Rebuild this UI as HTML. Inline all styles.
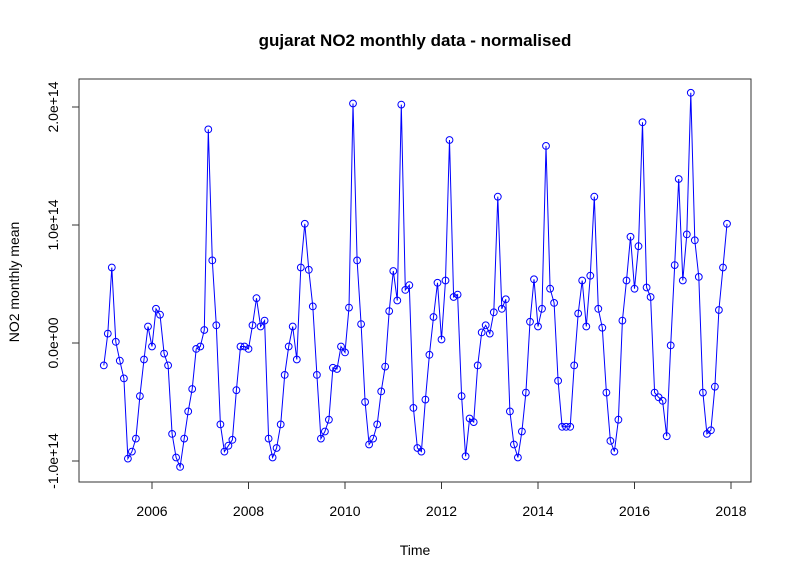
<!DOCTYPE html>
<html><head><meta charset="utf-8"><style>
body{margin:0;background:#fff}
svg text{font-family:"Liberation Sans",sans-serif}
</style></head><body>
<svg id="chart" width="792" height="580">
<rect x="0" y="0" width="792" height="580" fill="#fff"/>
<text x="415" y="46" text-anchor="middle" font-size="17" font-weight="bold">gujarat NO2 monthly data - normalised</text>
<text x="415" y="555" text-anchor="middle" font-size="14">Time</text>
<text transform="translate(19,282) rotate(-90)" text-anchor="middle" font-size="14">NO2 monthly mean</text>
<rect x="79" y="79" width="672" height="403" fill="none" stroke="#333" stroke-width="1"/>
<g id="xaxis"></g>
<g id="yaxis"></g>
<g id="series"></g>
</svg>
<script>
const startYear = 2005;
const xTicks = [2006, 2008, 2010, 2012, 2014, 2016, 2018];
const yTicks = [-1, 0, 1, 2];
const yTickLabels = ["-1.0e+14", "0.0e+00", "1.0e+14", "2.0e+14"];
// values in units of 1e14, monthly Jan 2005 - Dec 2017
const values = [
-0.19,0.08,0.64,0.01,-0.15,-0.30,-0.98,-0.92,-0.81,-0.45,-0.14,0.14,
-0.03,0.29,0.24,-0.09,-0.19,-0.77,-0.97,-1.05,-0.81,-0.58,-0.39,-0.05,
-0.03,0.11,1.81,0.70,0.15,-0.69,-0.92,-0.87,-0.82,-0.40,-0.03,-0.03,
-0.05,0.15,0.38,0.14,0.19,-0.81,-0.97,-0.89,-0.69,-0.27,-0.03,0.14,
-0.14,0.64,1.01,0.62,0.31,-0.27,-0.81,-0.75,-0.65,-0.21,-0.22,-0.03,
-0.08,0.30,2.03,0.70,0.16,-0.50,-0.86,-0.81,-0.69,-0.41,-0.20,0.27,
0.61,0.36,2.02,0.45,0.49,-0.55,-0.89,-0.92,-0.48,-0.10,0.22,0.51,
0.03,0.53,1.72,0.39,0.41,-0.45,-0.96,-0.64,-0.67,-0.19,0.09,0.15,
0.08,0.26,1.24,0.29,0.37,-0.58,-0.86,-0.97,-0.75,-0.42,0.18,0.54,
0.14,0.29,1.67,0.46,0.34,-0.32,-0.71,-0.71,-0.71,-0.19,0.25,0.53,
0.14,0.57,1.24,0.29,0.13,-0.42,-0.83,-0.92,-0.65,0.19,0.53,0.90,
0.46,0.82,1.87,0.47,0.39,-0.42,-0.46,-0.49,-0.79,-0.02,0.66,1.39,
0.53,0.92,2.12,0.87,0.56,-0.42,-0.77,-0.74,-0.37,0.28,0.64,1.01
];
const NS = "http://www.w3.org/2000/svg";
function xs(t){ return 152 + (t - 2006) * 48.25; }
function ys(v){ return 343 - v * 118; }
function mk(tag, attrs, parent){
  const e = document.createElementNS(NS, tag);
  for (const k in attrs) e.setAttribute(k, attrs[k]);
  parent.appendChild(e); return e;
}
const xg = document.getElementById('xaxis');
mk('line',{x1:xs(xTicks[0]),x2:xs(xTicks[xTicks.length-1]),y1:482,y2:482,stroke:'#333'},xg);
xTicks.forEach(t=>{
  const l = mk('line',{x1:xs(t),x2:xs(t),y1:482,y2:489,stroke:'#333'},xg);
  
  
  const tx = mk('text',{x:xs(t),y:516,'text-anchor':'middle','font-size':14},xg);
  tx.textContent = t;
  
  
});
const yg = document.getElementById('yaxis');
mk('line',{x1:79,x2:79,y1:ys(yTicks[0]),y2:ys(yTicks[yTicks.length-1]),stroke:'#333'},yg);
yTicks.forEach((v,i)=>{
  const l = mk('line',{x1:72,x2:79,y1:ys(v),y2:ys(v),stroke:'#333'},yg);
  
  
  const tx = mk('text',{transform:`translate(58,${ys(v)}) rotate(-90)`,'text-anchor':'middle','font-size':14},yg);
  tx.textContent = yTickLabels[i];
  
  
});
const sg = document.getElementById('series');
const pts = values.map((v,i)=>[xs(startYear + i/12), ys(v)]);
const line = mk('polyline',{points:pts.map(p=>p[0].toFixed(1)+','+p[1].toFixed(1)).join(' '),fill:'none',stroke:'#0000ff','stroke-width':1},sg);


pts.forEach(p=>{
  const c = mk('circle',{cx:p[0].toFixed(1),cy:p[1].toFixed(1),r:3.4,fill:'none',stroke:'#0000ff','stroke-width':1},sg);
  
  
});
</script>
</body></html>
